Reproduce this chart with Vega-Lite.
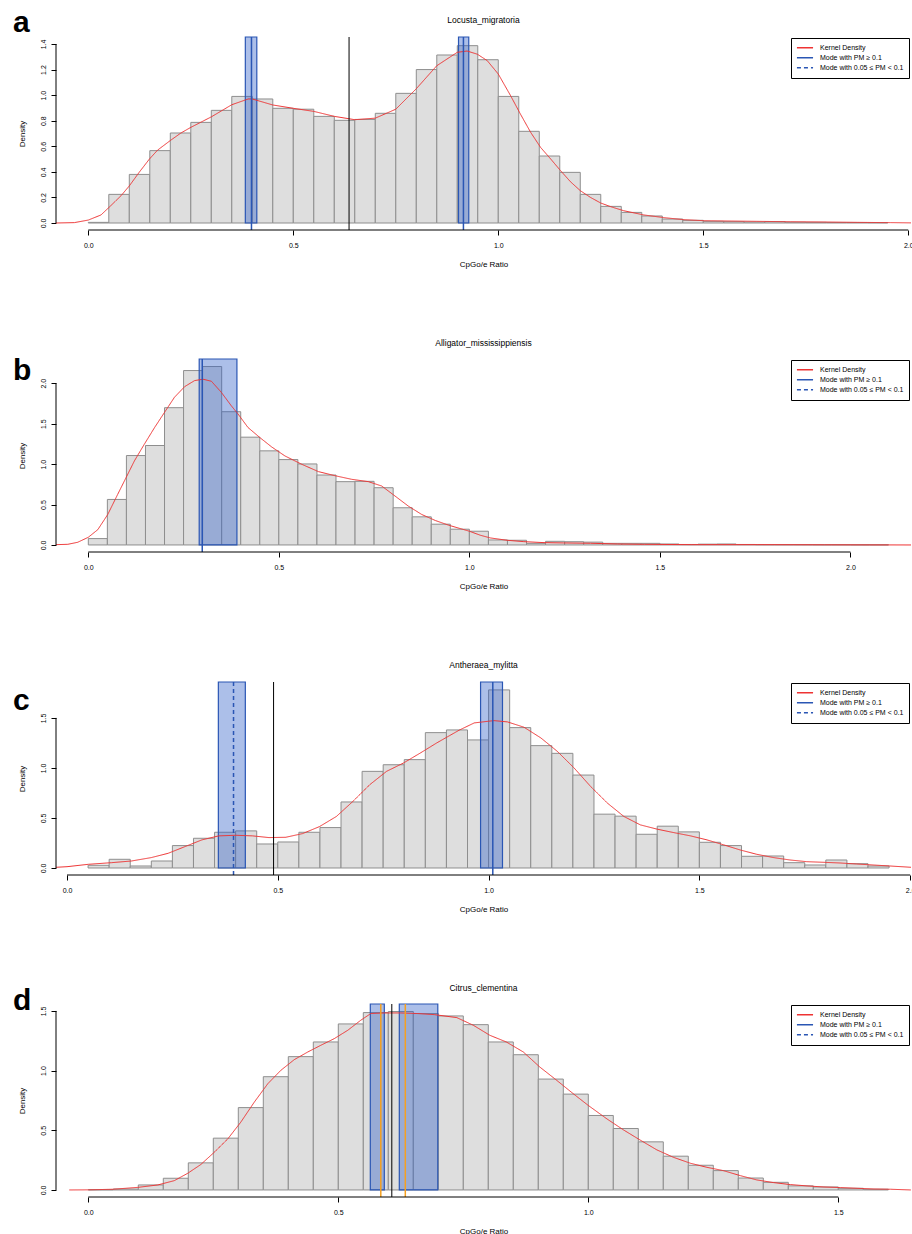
{
  "$schema": "https://vega.github.io/schema/vega-lite/v6.json",
  "background": "white",
  "padding": {"left": 12, "top": 7, "right": 0, "bottom": 0},
  "spacing": 69,
  "resolve": {"scale": {"color": "independent", "strokeDash": "independent"}, "legend": {"color": "independent", "strokeDash": "independent"}},
  "config": {
    "font": "Liberation Sans",
    "view": {"stroke": null},
    "title": {"fontSize": 8.5, "fontWeight": "normal", "anchor": "middle", "frame": "group", "offset": 12, "color": "black", "baseline": "alphabetic"},
    "axis": {"domain": false, "grid": false, "tickColor": "black", "tickSize": 5, "tickCount": 10, "labelFontSize": 7, "labelColor": "black", "titleFontSize": 8, "titleFontWeight": "normal", "titleColor": "black", "labelFlush": false, "labelOverlap": false},
    "axisY": {"labelAngle": 270, "labelAlign": "center", "labelBaseline": "bottom", "labelPadding": 5, "titlePadding": 13},
    "axisX": {"labelPadding": 6.5, "titlePadding": 12},
    "legend": {"orient": "none", "legendX": 735, "legendY": 1, "strokeColor": "black", "fillColor": "white", "padding": 5, "labelFontSize": 7, "labelColor": "black", "symbolType": "stroke", "symbolSize": 260, "symbolStrokeWidth": 1.5, "clipHeight": 9.5, "rowPadding": 0, "labelOffset": 6}
  },
  "datasets": {
    "a_info": [{"panel": "a", "mean": 0.636}],
    "b_info": [{"panel": "b"}],
    "c_info": [{"panel": "c", "mean": 0.49}],
    "d_info": [{"panel": "d", "mean": 0.607}],
    "a_modes": [
      {"mode": 0.398, "lo": 0.383, "hi": 0.411, "type": "Mode with PM ≥ 0.1"},
      {"mode": 0.915, "lo": 0.903, "hi": 0.928, "type": "Mode with PM ≥ 0.1"}
    ],
    "b_modes": [
      {"mode": 0.299, "lo": 0.291, "hi": 0.39, "type": "Mode with PM ≥ 0.1"}
    ],
    "c_modes": [
      {"mode": 0.395, "lo": 0.359, "hi": 0.423, "type": "Mode with 0.05 ≤ PM < 0.1"},
      {"mode": 1.01, "lo": 0.981, "hi": 1.033, "type": "Mode with PM ≥ 0.1"}
    ],
    "d_modes": [
      {"mode": 0.585, "lo": 0.564, "hi": 0.592},
      {"mode": 0.634, "lo": 0.622, "hi": 0.699}
    ],
    "a_bars": [
      {"lo": 0.0, "hi": 0.05, "density": 0.005},
      {"lo": 0.05, "hi": 0.1, "density": 0.224},
      {"lo": 0.1, "hi": 0.15, "density": 0.38},
      {"lo": 0.15, "hi": 0.2, "density": 0.566},
      {"lo": 0.2, "hi": 0.25, "density": 0.704},
      {"lo": 0.25, "hi": 0.3, "density": 0.787},
      {"lo": 0.3, "hi": 0.35, "density": 0.881},
      {"lo": 0.35, "hi": 0.4, "density": 0.99},
      {"lo": 0.4, "hi": 0.45, "density": 0.97},
      {"lo": 0.45, "hi": 0.5, "density": 0.897},
      {"lo": 0.5, "hi": 0.55, "density": 0.89},
      {"lo": 0.55, "hi": 0.6, "density": 0.834},
      {"lo": 0.6, "hi": 0.65, "density": 0.803},
      {"lo": 0.65, "hi": 0.7, "density": 0.81},
      {"lo": 0.7, "hi": 0.75, "density": 0.858},
      {"lo": 0.75, "hi": 0.8, "density": 1.014},
      {"lo": 0.8, "hi": 0.85, "density": 1.2},
      {"lo": 0.85, "hi": 0.9, "density": 1.314},
      {"lo": 0.9, "hi": 0.95, "density": 1.387},
      {"lo": 0.95, "hi": 1.0, "density": 1.277},
      {"lo": 1.0, "hi": 1.05, "density": 0.99},
      {"lo": 1.05, "hi": 1.1, "density": 0.717},
      {"lo": 1.1, "hi": 1.15, "density": 0.524},
      {"lo": 1.15, "hi": 1.2, "density": 0.396},
      {"lo": 1.2, "hi": 1.25, "density": 0.224},
      {"lo": 1.25, "hi": 1.3, "density": 0.13},
      {"lo": 1.3, "hi": 1.35, "density": 0.083},
      {"lo": 1.35, "hi": 1.4, "density": 0.055},
      {"lo": 1.4, "hi": 1.45, "density": 0.031},
      {"lo": 1.45, "hi": 1.5, "density": 0.021},
      {"lo": 1.5, "hi": 1.55, "density": 0.013},
      {"lo": 1.55, "hi": 1.6, "density": 0.01},
      {"lo": 1.6, "hi": 1.65, "density": 0.008},
      {"lo": 1.65, "hi": 1.7, "density": 0.01},
      {"lo": 1.7, "hi": 1.75, "density": 0.006},
      {"lo": 1.75, "hi": 1.8, "density": 0.005},
      {"lo": 1.8, "hi": 1.85, "density": 0.004},
      {"lo": 1.85, "hi": 1.9, "density": 0.004},
      {"lo": 1.9, "hi": 1.95, "density": 0.003}
    ],
    "a_curve": [
      {"type": "Kernel Density", "x": -0.079, "density": 0.0}, {"type": "Kernel Density", "x": -0.034, "density": 0.003}, {"type": "Kernel Density", "x": 0.0, "density": 0.023},
      {"type": "Kernel Density", "x": 0.031, "density": 0.063}, {"type": "Kernel Density", "x": 0.055, "density": 0.136}, {"type": "Kernel Density", "x": 0.08, "density": 0.214},
      {"type": "Kernel Density", "x": 0.1, "density": 0.29}, {"type": "Kernel Density", "x": 0.124, "density": 0.396}, {"type": "Kernel Density", "x": 0.149, "density": 0.5},
      {"type": "Kernel Density", "x": 0.169, "density": 0.57}, {"type": "Kernel Density", "x": 0.2, "density": 0.645}, {"type": "Kernel Density", "x": 0.226, "density": 0.704},
      {"type": "Kernel Density", "x": 0.25, "density": 0.748}, {"type": "Kernel Density", "x": 0.3, "density": 0.83}, {"type": "Kernel Density", "x": 0.35, "density": 0.925},
      {"type": "Kernel Density", "x": 0.39, "density": 0.97}, {"type": "Kernel Density", "x": 0.4, "density": 0.97}, {"type": "Kernel Density", "x": 0.45, "density": 0.923},
      {"type": "Kernel Density", "x": 0.5, "density": 0.897}, {"type": "Kernel Density", "x": 0.55, "density": 0.873}, {"type": "Kernel Density", "x": 0.6, "density": 0.834},
      {"type": "Kernel Density", "x": 0.65, "density": 0.808}, {"type": "Kernel Density", "x": 0.7, "density": 0.82}, {"type": "Kernel Density", "x": 0.75, "density": 0.89},
      {"type": "Kernel Density", "x": 0.8, "density": 1.05}, {"type": "Kernel Density", "x": 0.85, "density": 1.23}, {"type": "Kernel Density", "x": 0.9, "density": 1.335},
      {"type": "Kernel Density", "x": 0.924, "density": 1.345}, {"type": "Kernel Density", "x": 0.949, "density": 1.32}, {"type": "Kernel Density", "x": 0.973, "density": 1.27},
      {"type": "Kernel Density", "x": 1.0, "density": 1.165}, {"type": "Kernel Density", "x": 1.03, "density": 0.996}, {"type": "Kernel Density", "x": 1.054, "density": 0.852},
      {"type": "Kernel Density", "x": 1.079, "density": 0.709}, {"type": "Kernel Density", "x": 1.103, "density": 0.592}, {"type": "Kernel Density", "x": 1.128, "density": 0.5},
      {"type": "Kernel Density", "x": 1.152, "density": 0.409}, {"type": "Kernel Density", "x": 1.176, "density": 0.323}, {"type": "Kernel Density", "x": 1.2, "density": 0.253},
      {"type": "Kernel Density", "x": 1.225, "density": 0.2}, {"type": "Kernel Density", "x": 1.25, "density": 0.156}, {"type": "Kernel Density", "x": 1.274, "density": 0.128},
      {"type": "Kernel Density", "x": 1.306, "density": 0.096}, {"type": "Kernel Density", "x": 1.355, "density": 0.063}, {"type": "Kernel Density", "x": 1.404, "density": 0.042},
      {"type": "Kernel Density", "x": 1.453, "density": 0.026}, {"type": "Kernel Density", "x": 1.502, "density": 0.018}, {"type": "Kernel Density", "x": 1.55, "density": 0.016},
      {"type": "Kernel Density", "x": 1.63, "density": 0.013}, {"type": "Kernel Density", "x": 1.713, "density": 0.01}, {"type": "Kernel Density", "x": 1.794, "density": 0.008},
      {"type": "Kernel Density", "x": 1.876, "density": 0.005}, {"type": "Kernel Density", "x": 1.957, "density": 0.003}, {"type": "Kernel Density", "x": 2.007, "density": 0.001}
    ],
    "b_bars": [
      {"lo": 0.0, "hi": 0.05, "density": 0.079},
      {"lo": 0.05, "hi": 0.1, "density": 0.563},
      {"lo": 0.1, "hi": 0.15, "density": 1.106},
      {"lo": 0.15, "hi": 0.2, "density": 1.23},
      {"lo": 0.2, "hi": 0.25, "density": 1.698},
      {"lo": 0.25, "hi": 0.3, "density": 2.157},
      {"lo": 0.3, "hi": 0.35, "density": 2.207},
      {"lo": 0.35, "hi": 0.4, "density": 1.648},
      {"lo": 0.4, "hi": 0.45, "density": 1.333},
      {"lo": 0.45, "hi": 0.5, "density": 1.164},
      {"lo": 0.5, "hi": 0.55, "density": 1.056},
      {"lo": 0.55, "hi": 0.6, "density": 1.002},
      {"lo": 0.6, "hi": 0.65, "density": 0.865},
      {"lo": 0.65, "hi": 0.7, "density": 0.783},
      {"lo": 0.7, "hi": 0.75, "density": 0.787},
      {"lo": 0.75, "hi": 0.8, "density": 0.708},
      {"lo": 0.8, "hi": 0.85, "density": 0.46},
      {"lo": 0.85, "hi": 0.9, "density": 0.348},
      {"lo": 0.9, "hi": 0.95, "density": 0.257},
      {"lo": 0.95, "hi": 1.0, "density": 0.195},
      {"lo": 1.0, "hi": 1.05, "density": 0.17},
      {"lo": 1.05, "hi": 1.1, "density": 0.062},
      {"lo": 1.1, "hi": 1.15, "density": 0.058},
      {"lo": 1.15, "hi": 1.2, "density": 0.02},
      {"lo": 1.2, "hi": 1.25, "density": 0.045},
      {"lo": 1.25, "hi": 1.3, "density": 0.04},
      {"lo": 1.3, "hi": 1.35, "density": 0.035},
      {"lo": 1.35, "hi": 1.4, "density": 0.02},
      {"lo": 1.4, "hi": 1.45, "density": 0.02},
      {"lo": 1.45, "hi": 1.5, "density": 0.02},
      {"lo": 1.5, "hi": 1.55, "density": 0.012},
      {"lo": 1.55, "hi": 1.6, "density": 0.006},
      {"lo": 1.6, "hi": 1.65, "density": 0.01},
      {"lo": 1.65, "hi": 1.7, "density": 0.012},
      {"lo": 1.7, "hi": 1.75, "density": 0.006},
      {"lo": 1.75, "hi": 1.8, "density": 0.004},
      {"lo": 1.8, "hi": 1.85, "density": 0.004},
      {"lo": 1.85, "hi": 1.9, "density": 0.004},
      {"lo": 1.9, "hi": 1.95, "density": 0.003},
      {"lo": 1.95, "hi": 2.0, "density": 0.003},
      {"lo": 2.0, "hi": 2.05, "density": 0.002},
      {"lo": 2.05, "hi": 2.1, "density": 0.002}
    ],
    "b_curve": [
      {"type": "Kernel Density", "x": -0.085, "density": 0.004}, {"type": "Kernel Density", "x": -0.054, "density": 0.008}, {"type": "Kernel Density", "x": -0.028, "density": 0.033},
      {"type": "Kernel Density", "x": 0.0, "density": 0.095}, {"type": "Kernel Density", "x": 0.025, "density": 0.19}, {"type": "Kernel Density", "x": 0.051, "density": 0.377},
      {"type": "Kernel Density", "x": 0.077, "density": 0.625}, {"type": "Kernel Density", "x": 0.099, "density": 0.832}, {"type": "Kernel Density", "x": 0.121, "density": 1.04},
      {"type": "Kernel Density", "x": 0.147, "density": 1.246}, {"type": "Kernel Density", "x": 0.174, "density": 1.453}, {"type": "Kernel Density", "x": 0.2, "density": 1.64},
      {"type": "Kernel Density", "x": 0.226, "density": 1.826}, {"type": "Kernel Density", "x": 0.253, "density": 1.959}, {"type": "Kernel Density", "x": 0.279, "density": 2.033},
      {"type": "Kernel Density", "x": 0.301, "density": 2.05}, {"type": "Kernel Density", "x": 0.323, "density": 2.025}, {"type": "Kernel Density", "x": 0.349, "density": 1.888},
      {"type": "Kernel Density", "x": 0.375, "density": 1.723}, {"type": "Kernel Density", "x": 0.393, "density": 1.619}, {"type": "Kernel Density", "x": 0.419, "density": 1.453},
      {"type": "Kernel Density", "x": 0.45, "density": 1.329}, {"type": "Kernel Density", "x": 0.481, "density": 1.213}, {"type": "Kernel Density", "x": 0.516, "density": 1.101},
      {"type": "Kernel Density", "x": 0.56, "density": 0.998}, {"type": "Kernel Density", "x": 0.604, "density": 0.907}, {"type": "Kernel Density", "x": 0.647, "density": 0.857},
      {"type": "Kernel Density", "x": 0.691, "density": 0.812}, {"type": "Kernel Density", "x": 0.735, "density": 0.783}, {"type": "Kernel Density", "x": 0.77, "density": 0.729},
      {"type": "Kernel Density", "x": 0.805, "density": 0.605}, {"type": "Kernel Density", "x": 0.84, "density": 0.48}, {"type": "Kernel Density", "x": 0.875, "density": 0.377},
      {"type": "Kernel Density", "x": 0.911, "density": 0.302}, {"type": "Kernel Density", "x": 0.946, "density": 0.244}, {"type": "Kernel Density", "x": 0.97, "density": 0.211},
      {"type": "Kernel Density", "x": 1.0, "density": 0.17}, {"type": "Kernel Density", "x": 1.029, "density": 0.12}, {"type": "Kernel Density", "x": 1.055, "density": 0.087},
      {"type": "Kernel Density", "x": 1.099, "density": 0.058}, {"type": "Kernel Density", "x": 1.143, "density": 0.041}, {"type": "Kernel Density", "x": 1.196, "density": 0.029},
      {"type": "Kernel Density", "x": 1.248, "density": 0.025}, {"type": "Kernel Density", "x": 1.318, "density": 0.021}, {"type": "Kernel Density", "x": 1.389, "density": 0.012},
      {"type": "Kernel Density", "x": 1.459, "density": 0.008}, {"type": "Kernel Density", "x": 1.582, "density": 0.004}, {"type": "Kernel Density", "x": 1.757, "density": 0.004},
      {"type": "Kernel Density", "x": 1.932, "density": 0.002}, {"type": "Kernel Density", "x": 2.159, "density": 0.0}
    ],
    "c_bars": [
      {"lo": 0.05, "hi": 0.1, "density": 0.027},
      {"lo": 0.1, "hi": 0.15, "density": 0.087},
      {"lo": 0.15, "hi": 0.2, "density": 0.02},
      {"lo": 0.2, "hi": 0.25, "density": 0.07},
      {"lo": 0.25, "hi": 0.3, "density": 0.224},
      {"lo": 0.3, "hi": 0.35, "density": 0.297},
      {"lo": 0.35, "hi": 0.4, "density": 0.357},
      {"lo": 0.4, "hi": 0.45, "density": 0.371},
      {"lo": 0.45, "hi": 0.5, "density": 0.24},
      {"lo": 0.5, "hi": 0.55, "density": 0.26},
      {"lo": 0.55, "hi": 0.6, "density": 0.357},
      {"lo": 0.6, "hi": 0.65, "density": 0.404},
      {"lo": 0.65, "hi": 0.7, "density": 0.66},
      {"lo": 0.7, "hi": 0.75, "density": 0.966},
      {"lo": 0.75, "hi": 0.8, "density": 1.032},
      {"lo": 0.8, "hi": 0.85, "density": 1.083},
      {"lo": 0.85, "hi": 0.9, "density": 1.353},
      {"lo": 0.9, "hi": 0.95, "density": 1.38},
      {"lo": 0.95, "hi": 1.0, "density": 1.28},
      {"lo": 1.0, "hi": 1.05, "density": 1.78},
      {"lo": 1.05, "hi": 1.1, "density": 1.403},
      {"lo": 1.1, "hi": 1.15, "density": 1.223},
      {"lo": 1.15, "hi": 1.2, "density": 1.146},
      {"lo": 1.2, "hi": 1.25, "density": 0.929},
      {"lo": 1.25, "hi": 1.3, "density": 0.538},
      {"lo": 1.3, "hi": 1.35, "density": 0.518},
      {"lo": 1.35, "hi": 1.4, "density": 0.337},
      {"lo": 1.4, "hi": 1.45, "density": 0.418},
      {"lo": 1.45, "hi": 1.5, "density": 0.361},
      {"lo": 1.5, "hi": 1.55, "density": 0.257},
      {"lo": 1.55, "hi": 1.6, "density": 0.224},
      {"lo": 1.6, "hi": 1.65, "density": 0.117},
      {"lo": 1.65, "hi": 1.7, "density": 0.12},
      {"lo": 1.7, "hi": 1.75, "density": 0.053},
      {"lo": 1.75, "hi": 1.8, "density": 0.03},
      {"lo": 1.8, "hi": 1.85, "density": 0.08},
      {"lo": 1.85, "hi": 1.9, "density": 0.043},
      {"lo": 1.9, "hi": 1.95, "density": 0.02}
    ],
    "c_curve": [
      {"type": "Kernel Density", "x": -0.026, "density": 0.007}, {"type": "Kernel Density", "x": 0.0, "density": 0.013}, {"type": "Kernel Density", "x": 0.051, "density": 0.037},
      {"type": "Kernel Density", "x": 0.105, "density": 0.053}, {"type": "Kernel Density", "x": 0.153, "density": 0.07}, {"type": "Kernel Density", "x": 0.2, "density": 0.104},
      {"type": "Kernel Density", "x": 0.24, "density": 0.147}, {"type": "Kernel Density", "x": 0.28, "density": 0.214}, {"type": "Kernel Density", "x": 0.32, "density": 0.281},
      {"type": "Kernel Density", "x": 0.36, "density": 0.321}, {"type": "Kernel Density", "x": 0.4, "density": 0.327}, {"type": "Kernel Density", "x": 0.44, "density": 0.321},
      {"type": "Kernel Density", "x": 0.479, "density": 0.304}, {"type": "Kernel Density", "x": 0.519, "density": 0.307}, {"type": "Kernel Density", "x": 0.559, "density": 0.344},
      {"type": "Kernel Density", "x": 0.599, "density": 0.414}, {"type": "Kernel Density", "x": 0.639, "density": 0.515}, {"type": "Kernel Density", "x": 0.678, "density": 0.665},
      {"type": "Kernel Density", "x": 0.718, "density": 0.832}, {"type": "Kernel Density", "x": 0.758, "density": 0.966}, {"type": "Kernel Density", "x": 0.798, "density": 1.049},
      {"type": "Kernel Density", "x": 0.838, "density": 1.149}, {"type": "Kernel Density", "x": 0.877, "density": 1.25}, {"type": "Kernel Density", "x": 0.93, "density": 1.377},
      {"type": "Kernel Density", "x": 0.966, "density": 1.45}, {"type": "Kernel Density", "x": 1.0, "density": 1.467}, {"type": "Kernel Density", "x": 1.013, "density": 1.473},
      {"type": "Kernel Density", "x": 1.045, "density": 1.46}, {"type": "Kernel Density", "x": 1.084, "density": 1.407}, {"type": "Kernel Density", "x": 1.124, "density": 1.3},
      {"type": "Kernel Density", "x": 1.163, "density": 1.166}, {"type": "Kernel Density", "x": 1.203, "density": 0.999}, {"type": "Kernel Density", "x": 1.242, "density": 0.815},
      {"type": "Kernel Density", "x": 1.282, "density": 0.648}, {"type": "Kernel Density", "x": 1.321, "density": 0.515}, {"type": "Kernel Density", "x": 1.36, "density": 0.431},
      {"type": "Kernel Density", "x": 1.4, "density": 0.388}, {"type": "Kernel Density", "x": 1.439, "density": 0.354}, {"type": "Kernel Density", "x": 1.479, "density": 0.321},
      {"type": "Kernel Density", "x": 1.518, "density": 0.281}, {"type": "Kernel Density", "x": 1.558, "density": 0.231}, {"type": "Kernel Density", "x": 1.597, "density": 0.18},
      {"type": "Kernel Density", "x": 1.636, "density": 0.137}, {"type": "Kernel Density", "x": 1.676, "density": 0.104}, {"type": "Kernel Density", "x": 1.715, "density": 0.08},
      {"type": "Kernel Density", "x": 1.755, "density": 0.063}, {"type": "Kernel Density", "x": 1.794, "density": 0.057}, {"type": "Kernel Density", "x": 1.834, "density": 0.05},
      {"type": "Kernel Density", "x": 1.873, "density": 0.04}, {"type": "Kernel Density", "x": 1.912, "density": 0.03}, {"type": "Kernel Density", "x": 1.952, "density": 0.02},
      {"type": "Kernel Density", "x": 2.002, "density": 0.007}
    ],
    "d_bars": [
      {"lo": 0.0, "hi": 0.05, "density": 0.002},
      {"lo": 0.05, "hi": 0.1, "density": 0.008},
      {"lo": 0.1, "hi": 0.15, "density": 0.042},
      {"lo": 0.15, "hi": 0.2, "density": 0.098},
      {"lo": 0.2, "hi": 0.25, "density": 0.227},
      {"lo": 0.25, "hi": 0.3, "density": 0.434},
      {"lo": 0.3, "hi": 0.35, "density": 0.69},
      {"lo": 0.35, "hi": 0.4, "density": 0.949},
      {"lo": 0.4, "hi": 0.45, "density": 1.117},
      {"lo": 0.45, "hi": 0.5, "density": 1.24},
      {"lo": 0.5, "hi": 0.55, "density": 1.391},
      {"lo": 0.55, "hi": 0.6, "density": 1.486},
      {"lo": 0.6, "hi": 0.65, "density": 1.495},
      {"lo": 0.65, "hi": 0.7, "density": 1.478},
      {"lo": 0.7, "hi": 0.75, "density": 1.458},
      {"lo": 0.75, "hi": 0.8, "density": 1.385},
      {"lo": 0.8, "hi": 0.85, "density": 1.24},
      {"lo": 0.85, "hi": 0.9, "density": 1.133},
      {"lo": 0.9, "hi": 0.95, "density": 0.929},
      {"lo": 0.95, "hi": 1.0, "density": 0.803},
      {"lo": 1.0, "hi": 1.05, "density": 0.624},
      {"lo": 1.05, "hi": 1.1, "density": 0.515},
      {"lo": 1.1, "hi": 1.15, "density": 0.403},
      {"lo": 1.15, "hi": 1.2, "density": 0.283},
      {"lo": 1.2, "hi": 1.25, "density": 0.207},
      {"lo": 1.25, "hi": 1.3, "density": 0.162},
      {"lo": 1.3, "hi": 1.35, "density": 0.1},
      {"lo": 1.35, "hi": 1.4, "density": 0.064},
      {"lo": 1.4, "hi": 1.45, "density": 0.034},
      {"lo": 1.45, "hi": 1.5, "density": 0.025},
      {"lo": 1.5, "hi": 1.55, "density": 0.014},
      {"lo": 1.55, "hi": 1.6, "density": 0.006}
    ],
    "d_curve": [
      {"type": "Kernel Density", "x": -0.038, "density": 0.0}, {"type": "Kernel Density", "x": 0.0, "density": 0.001}, {"type": "Kernel Density", "x": 0.05, "density": 0.006},
      {"type": "Kernel Density", "x": 0.1, "density": 0.022}, {"type": "Kernel Density", "x": 0.139, "density": 0.042}, {"type": "Kernel Density", "x": 0.172, "density": 0.078},
      {"type": "Kernel Density", "x": 0.199, "density": 0.14}, {"type": "Kernel Density", "x": 0.225, "density": 0.213}, {"type": "Kernel Density", "x": 0.252, "density": 0.316},
      {"type": "Kernel Density", "x": 0.279, "density": 0.428}, {"type": "Kernel Density", "x": 0.305, "density": 0.568}, {"type": "Kernel Density", "x": 0.332, "density": 0.736},
      {"type": "Kernel Density", "x": 0.359, "density": 0.89}, {"type": "Kernel Density", "x": 0.385, "density": 1.002}, {"type": "Kernel Density", "x": 0.412, "density": 1.092},
      {"type": "Kernel Density", "x": 0.439, "density": 1.156}, {"type": "Kernel Density", "x": 0.465, "density": 1.212}, {"type": "Kernel Density", "x": 0.492, "density": 1.268},
      {"type": "Kernel Density", "x": 0.519, "density": 1.338}, {"type": "Kernel Density", "x": 0.545, "density": 1.422}, {"type": "Kernel Density", "x": 0.565, "density": 1.478},
      {"type": "Kernel Density", "x": 0.592, "density": 1.483}, {"type": "Kernel Density", "x": 0.625, "density": 1.483}, {"type": "Kernel Density", "x": 0.659, "density": 1.478},
      {"type": "Kernel Density", "x": 0.692, "density": 1.469}, {"type": "Kernel Density", "x": 0.737, "density": 1.444}, {"type": "Kernel Density", "x": 0.77, "density": 1.38},
      {"type": "Kernel Density", "x": 0.803, "density": 1.296}, {"type": "Kernel Density", "x": 0.836, "density": 1.24}, {"type": "Kernel Density", "x": 0.87, "density": 1.156},
      {"type": "Kernel Density", "x": 0.903, "density": 1.03}, {"type": "Kernel Density", "x": 0.937, "density": 0.918}, {"type": "Kernel Density", "x": 0.97, "density": 0.806},
      {"type": "Kernel Density", "x": 1.0, "density": 0.708}, {"type": "Kernel Density", "x": 1.037, "density": 0.596}, {"type": "Kernel Density", "x": 1.07, "density": 0.504},
      {"type": "Kernel Density", "x": 1.103, "density": 0.42}, {"type": "Kernel Density", "x": 1.137, "density": 0.336}, {"type": "Kernel Density", "x": 1.17, "density": 0.274},
      {"type": "Kernel Density", "x": 1.204, "density": 0.224}, {"type": "Kernel Density", "x": 1.237, "density": 0.19}, {"type": "Kernel Density", "x": 1.27, "density": 0.162},
      {"type": "Kernel Density", "x": 1.304, "density": 0.12}, {"type": "Kernel Density", "x": 1.337, "density": 0.084}, {"type": "Kernel Density", "x": 1.37, "density": 0.062},
      {"type": "Kernel Density", "x": 1.404, "density": 0.045}, {"type": "Kernel Density", "x": 1.437, "density": 0.034}, {"type": "Kernel Density", "x": 1.471, "density": 0.025},
      {"type": "Kernel Density", "x": 1.504, "density": 0.02}, {"type": "Kernel Density", "x": 1.537, "density": 0.014}, {"type": "Kernel Density", "x": 1.571, "density": 0.008},
      {"type": "Kernel Density", "x": 1.604, "density": 0.006}, {"type": "Kernel Density", "x": 1.645, "density": 0.0}
    ]
  },
  "vconcat": [
    {
      "width": 855, "height": 193,
      "title": {"text": "Locusta_migratoria", "dy": 29},
      "layer": [
        {"data": {"name": "a_bars"}, "mark": {"type": "rect", "fill": "#dedede", "stroke": "#8e8e8e", "strokeWidth": 1},
         "encoding": {
           "x": {"field": "lo", "type": "quantitative", "scale": {"domain": [-0.0788, 2.0067], "nice": false, "zero": false}, "axis": {"values": [0, 0.5, 1, 1.5, 2], "format": ".1f", "title": "CpGo/e Ratio", "labelOverlap": false, "tickCount": 10}},
           "x2": {"field": "hi"},
           "y": {"field": "density", "type": "quantitative", "scale": {"domain": [-0.0547, 1.4547], "nice": false, "zero": false}, "axis": {"values": [0, 0.2, 0.4, 0.6, 0.8, 1.0, 1.2, 1.4], "format": ".1f", "title": "Density", "labelOverlap": false, "tickCount": 10}},
           "y2": {"datum": 0}}},
        {"data": {"name": "a_modes"}, "mark": {"type": "rect", "fill": "#3060c8", "fillOpacity": 0.4, "stroke": "#2a56b4", "strokeWidth": 1.2},
         "encoding": {"x": {"field": "lo", "type": "quantitative"}, "x2": {"field": "hi"}, "y": {"datum": 0}, "y2": {"datum": 1.4547}}},
        {"data": {"name": "a_curve"}, "mark": {"type": "line", "strokeWidth": 1, "clip": true},
         "encoding": {"x": {"field": "x", "type": "quantitative"}, "y": {"field": "density", "type": "quantitative"},
           "color": {"field": "type", "type": "nominal", "title": null, "scale": {"domain": ["Kernel Density", "Mode with PM ≥ 0.1", "Mode with 0.05 ≤ PM < 0.1"], "range": ["#ee3333", "#2a56b4", "#2a56b4"]}},
           "strokeDash": {"field": "type", "type": "nominal", "title": null, "scale": {"domain": ["Kernel Density", "Mode with PM ≥ 0.1", "Mode with 0.05 ≤ PM < 0.1"], "range": [[1, 0], [1, 0], [4, 3]]}}}},
        {"data": {"name": "a_info"}, "mark": {"type": "rule", "color": "black", "strokeWidth": 1}, "encoding": {"x": {"field": "mean", "type": "quantitative"}}},
        {"data": {"name": "a_modes"}, "mark": {"type": "rule", "strokeWidth": 1.5},
         "encoding": {"x": {"field": "mode", "type": "quantitative"}, "color": {"field": "type", "type": "nominal", "title": null}, "strokeDash": {"field": "type", "type": "nominal", "title": null}}},
        {"data": {"name": "a_info"}, "mark": {"type": "rule", "color": "black", "strokeWidth": 1},
         "encoding": {"x": {"datum": 0}, "x2": {"datum": 2}, "y": {"datum": -0.0547}}},
        {"data": {"name": "a_info"}, "mark": {"type": "rule", "color": "black", "strokeWidth": 1},
         "encoding": {"x": {"datum": -0.0788}, "y": {"datum": 0}, "y2": {"datum": 1.4}}},
        {"data": {"name": "a_info"}, "mark": {"type": "text", "fontSize": 30, "fontWeight": "bold", "align": "left", "baseline": "alphabetic", "color": "black"},
         "encoding": {"text": {"field": "panel"}, "x": {"datum": -0.1837}, "y": {"datum": 1.494}}}
      ]
    },
    {
      "width": 855, "height": 193,
      "title": {"text": "Alligator_mississippiensis", "dy": 3},
      "layer": [
        {"data": {"name": "b_bars"}, "mark": {"type": "rect", "fill": "#dedede", "stroke": "#8e8e8e", "strokeWidth": 1},
         "encoding": {
           "x": {"field": "lo", "type": "quantitative", "scale": {"domain": [-0.0848, 2.159], "nice": false, "zero": false}, "axis": {"values": [0, 0.5, 1, 1.5, 2], "format": ".1f", "title": "CpGo/e Ratio", "labelOverlap": false, "tickCount": 10}},
           "x2": {"field": "hi"},
           "y": {"field": "density", "type": "quantitative", "scale": {"domain": [-0.087, 2.3], "nice": false, "zero": false}, "axis": {"values": [0, 0.5, 1.0, 1.5, 2.0], "format": ".1f", "title": "Density", "labelOverlap": false, "tickCount": 10}},
           "y2": {"datum": 0}}},
        {"data": {"name": "b_modes"}, "mark": {"type": "rect", "fill": "#3060c8", "fillOpacity": 0.4, "stroke": "#2a56b4", "strokeWidth": 1.2},
         "encoding": {"x": {"field": "lo", "type": "quantitative"}, "x2": {"field": "hi"}, "y": {"datum": 0}, "y2": {"datum": 2.3}}},
        {"data": {"name": "b_curve"}, "mark": {"type": "line", "strokeWidth": 1, "clip": true},
         "encoding": {"x": {"field": "x", "type": "quantitative"}, "y": {"field": "density", "type": "quantitative"},
           "color": {"field": "type", "type": "nominal", "title": null, "scale": {"domain": ["Kernel Density", "Mode with PM ≥ 0.1", "Mode with 0.05 ≤ PM < 0.1"], "range": ["#ee3333", "#2a56b4", "#2a56b4"]}},
           "strokeDash": {"field": "type", "type": "nominal", "title": null, "scale": {"domain": ["Kernel Density", "Mode with PM ≥ 0.1", "Mode with 0.05 ≤ PM < 0.1"], "range": [[1, 0], [1, 0], [4, 3]]}}}},
        {"data": {"name": "b_modes"}, "mark": {"type": "rule", "strokeWidth": 1.5},
         "encoding": {"x": {"field": "mode", "type": "quantitative"}, "color": {"field": "type", "type": "nominal", "title": null}, "strokeDash": {"field": "type", "type": "nominal", "title": null}}},
        {"data": {"name": "b_info"}, "mark": {"type": "rule", "color": "black", "strokeWidth": 1},
         "encoding": {"x": {"datum": 0}, "x2": {"datum": 2}, "y": {"datum": -0.087}}},
        {"data": {"name": "b_info"}, "mark": {"type": "rule", "color": "black", "strokeWidth": 1},
         "encoding": {"x": {"datum": -0.0848}, "y": {"datum": 0}, "y2": {"datum": 2.0}}},
        {"data": {"name": "b_info"}, "mark": {"type": "text", "fontSize": 30, "fontWeight": "bold", "align": "left", "baseline": "alphabetic", "color": "black"},
         "encoding": {"text": {"field": "panel"}, "x": {"datum": -0.1977}, "y": {"datum": 2.037}}}
      ]
    },
    {
      "width": 855, "height": 193,
      "title": {"text": "Antheraea_mylitta", "dy": 0},
      "layer": [
        {"data": {"name": "c_bars"}, "mark": {"type": "rect", "fill": "#dedede", "stroke": "#8e8e8e", "strokeWidth": 1},
         "encoding": {
           "x": {"field": "lo", "type": "quantitative", "scale": {"domain": [-0.0261, 2.002], "nice": false, "zero": false}, "axis": {"values": [0, 0.5, 1, 1.5, 2], "format": ".1f", "title": "CpGo/e Ratio", "labelOverlap": false, "tickCount": 10}},
           "x2": {"field": "hi"},
           "y": {"field": "density", "type": "quantitative", "scale": {"domain": [-0.07, 1.859], "nice": false, "zero": false}, "axis": {"values": [0, 0.5, 1.0, 1.5], "format": ".1f", "title": "Density", "labelOverlap": false, "tickCount": 10}},
           "y2": {"datum": 0}}},
        {"data": {"name": "c_modes"}, "mark": {"type": "rect", "fill": "#3060c8", "fillOpacity": 0.4, "stroke": "#2a56b4", "strokeWidth": 1.2},
         "encoding": {"x": {"field": "lo", "type": "quantitative"}, "x2": {"field": "hi"}, "y": {"datum": 0}, "y2": {"datum": 1.859}}},
        {"data": {"name": "c_curve"}, "mark": {"type": "line", "strokeWidth": 1, "clip": true},
         "encoding": {"x": {"field": "x", "type": "quantitative"}, "y": {"field": "density", "type": "quantitative"},
           "color": {"field": "type", "type": "nominal", "title": null, "scale": {"domain": ["Kernel Density", "Mode with PM ≥ 0.1", "Mode with 0.05 ≤ PM < 0.1"], "range": ["#ee3333", "#2a56b4", "#2a56b4"]}},
           "strokeDash": {"field": "type", "type": "nominal", "title": null, "scale": {"domain": ["Kernel Density", "Mode with PM ≥ 0.1", "Mode with 0.05 ≤ PM < 0.1"], "range": [[1, 0], [1, 0], [4, 3]]}}}},
        {"data": {"name": "c_info"}, "mark": {"type": "rule", "color": "black", "strokeWidth": 1}, "encoding": {"x": {"field": "mean", "type": "quantitative"}}},
        {"data": {"name": "c_modes"}, "mark": {"type": "rule", "strokeWidth": 1.5},
         "encoding": {"x": {"field": "mode", "type": "quantitative"}, "color": {"field": "type", "type": "nominal", "title": null}, "strokeDash": {"field": "type", "type": "nominal", "title": null}}},
        {"data": {"name": "c_info"}, "mark": {"type": "rule", "color": "black", "strokeWidth": 1},
         "encoding": {"x": {"datum": 0}, "x2": {"datum": 2}, "y": {"datum": -0.07}}},
        {"data": {"name": "c_info"}, "mark": {"type": "rule", "color": "black", "strokeWidth": 1},
         "encoding": {"x": {"datum": -0.0261}, "y": {"datum": 0}, "y2": {"datum": 1.5}}},
        {"data": {"name": "c_info"}, "mark": {"type": "text", "fontSize": 30, "fontWeight": "bold", "align": "left", "baseline": "alphabetic", "color": "black"},
         "encoding": {"text": {"field": "panel"}, "x": {"datum": -0.1281}, "y": {"datum": 1.578}}}
      ]
    },
    {
      "width": 855, "height": 193,
      "title": {"text": "Citrus_clementina", "dy": 18},
      "layer": [
        {"data": {"name": "d_bars"}, "mark": {"type": "rect", "fill": "#dedede", "stroke": "#8e8e8e", "strokeWidth": 1},
         "encoding": {
           "x": {"field": "lo", "type": "quantitative", "scale": {"domain": [-0.0646, 1.6454], "nice": false, "zero": false}, "axis": {"values": [0, 0.5, 1, 1.5], "format": ".1f", "title": "CpGo/e Ratio", "labelOverlap": false, "tickCount": 10}},
           "x2": {"field": "hi"},
           "y": {"field": "density", "type": "quantitative", "scale": {"domain": [-0.059, 1.558], "nice": false, "zero": false}, "axis": {"values": [0, 0.5, 1.0, 1.5], "format": ".1f", "title": "Density", "labelOverlap": false, "tickCount": 10}},
           "y2": {"datum": 0}}},
        {"data": {"name": "d_modes"}, "mark": {"type": "rect", "fill": "#3060c8", "fillOpacity": 0.4, "stroke": "#2a56b4", "strokeWidth": 1.2},
         "encoding": {"x": {"field": "lo", "type": "quantitative"}, "x2": {"field": "hi"}, "y": {"datum": 0}, "y2": {"datum": 1.558}}},
        {"data": {"name": "d_curve"}, "mark": {"type": "line", "strokeWidth": 1, "clip": true},
         "encoding": {"x": {"field": "x", "type": "quantitative"}, "y": {"field": "density", "type": "quantitative"},
           "color": {"field": "type", "type": "nominal", "title": null, "scale": {"domain": ["Kernel Density", "Mode with PM ≥ 0.1", "Mode with 0.05 ≤ PM < 0.1"], "range": ["#ee3333", "#2a56b4", "#2a56b4"]}},
           "strokeDash": {"field": "type", "type": "nominal", "title": null, "scale": {"domain": ["Kernel Density", "Mode with PM ≥ 0.1", "Mode with 0.05 ≤ PM < 0.1"], "range": [[1, 0], [1, 0], [4, 3]]}}}},
        {"data": {"name": "d_info"}, "mark": {"type": "rule", "color": "black", "strokeWidth": 1}, "encoding": {"x": {"field": "mean", "type": "quantitative"}}},
        {"data": {"name": "d_modes"}, "mark": {"type": "rule", "strokeWidth": 1.5, "color": "#f5a020"},
         "encoding": {"x": {"field": "mode", "type": "quantitative"}}},
        {"data": {"name": "d_info"}, "mark": {"type": "rule", "color": "black", "strokeWidth": 1},
         "encoding": {"x": {"datum": 0}, "x2": {"datum": 1.5}, "y": {"datum": -0.059}}},
        {"data": {"name": "d_info"}, "mark": {"type": "rule", "color": "black", "strokeWidth": 1},
         "encoding": {"x": {"datum": -0.0646}, "y": {"datum": 0}, "y2": {"datum": 1.5}}},
        {"data": {"name": "d_info"}, "mark": {"type": "text", "fontSize": 30, "fontWeight": "bold", "align": "left", "baseline": "alphabetic", "color": "black"},
         "encoding": {"text": {"field": "panel"}, "x": {"datum": -0.1506}, "y": {"datum": 1.505}}}
      ]
    }
  ]
}
